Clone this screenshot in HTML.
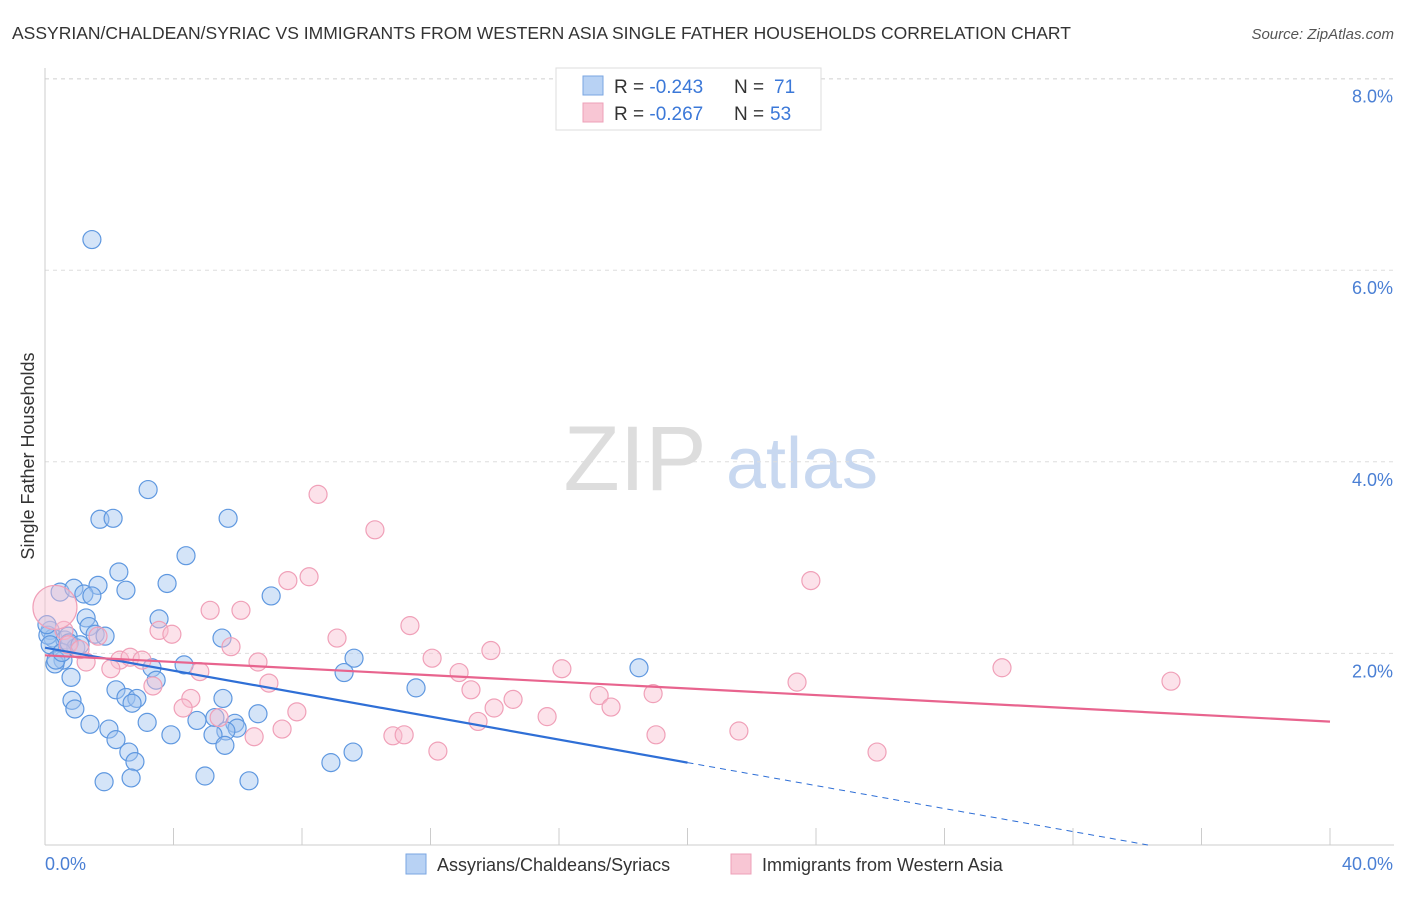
<!DOCTYPE html>
<html><head><meta charset="utf-8"><style>
body{margin:0;background:#fff;font-family:"Liberation Sans",sans-serif;}
svg text{font-family:"Liberation Sans",sans-serif;}
</style></head><body>
<svg id="chart" width="1406" height="892" xmlns="http://www.w3.org/2000/svg">
<text x="12" y="39" font-size="17.5" fill="#333">ASSYRIAN/CHALDEAN/SYRIAC VS IMMIGRANTS FROM WESTERN ASIA SINGLE FATHER HOUSEHOLDS CORRELATION CHART</text>
<text x="1394" y="39" font-size="15" fill="#555" text-anchor="end" font-style="italic">Source: ZipAtlas.com</text>
<g><text x="635" y="490" font-size="92" fill="#ddd" text-anchor="middle" font-family="Liberation Serif">ZIP</text><text x="802" y="488" font-size="72" fill="#c8d8f0" text-anchor="middle">atlas</text></g>
<g id="grid"></g>
<line x1="45" y1="68" x2="45" y2="845" stroke="#ccc"/>
<line x1="45" y1="845" x2="1394" y2="845" stroke="#ccc"/>
<g id="xticks"></g>
<text transform="translate(34,456) rotate(-90)" font-size="18" fill="#333" text-anchor="middle">Single Father Households</text>
<text x="45" y="870" font-size="18" fill="#4a7fd4">0.0%</text>
<text x="1393" y="870" font-size="18" fill="#4a7fd4" text-anchor="end">40.0%</text>
<g id="points"></g>
<g id="trends"></g>
<g>
<rect x="556" y="68" width="265" height="62" fill="#fff" stroke="#ddd"/>
<rect x="583" y="76" width="20" height="19" fill="#b8d2f4" stroke="#7aa6e2"/>
<rect x="583" y="103" width="20" height="19" fill="#f8c6d4" stroke="#eea0b8"/>
<text x="614" y="93" font-size="19" fill="#333">R = <tspan fill="#3b78d8">-0.243</tspan><tspan x="734">N = </tspan><tspan x="774" fill="#3b78d8">71</tspan></text>
<text x="614" y="120" font-size="19" fill="#333">R = <tspan fill="#3b78d8">-0.267</tspan><tspan x="734">N = </tspan><tspan x="770" fill="#3b78d8">53</tspan></text>
</g>
<g>
<rect x="406" y="854" width="20" height="20" fill="#b8d2f4" stroke="#7aa6e2"/>
<text x="437" y="871" font-size="18" fill="#333">Assyrians/Chaldeans/Syriacs</text>
<rect x="731" y="854" width="20" height="20" fill="#f8c6d4" stroke="#eea0b8"/>
<text x="762" y="871" font-size="18" fill="#333">Immigrants from Western Asia</text>
</g>
</svg>
<script>
const yTicks=[2,4,6,8];
const yTickLabels=["2.0%","4.0%","6.0%","8.0%"];
const xTicks=[0,4,8,12,16,20,24,28,32,36,40];
const blueX=[1.46,3.21,1.71,2.12,5.70,4.39,2.30,3.80,1.65,2.52,0.47,0.90,1.21,1.46,7.04,3.55,1.28,1.37,1.56,1.87,5.51,0.16,0.25,0.62,0.72,0.96,0.56,0.31,4.33,9.62,18.49,3.33,9.31,11.55,0.81,3.46,2.21,2.52,2.86,2.71,0.84,0.93,5.54,6.63,3.18,4.73,5.29,5.91,1.40,1.99,5.98,3.92,5.63,5.23,5.60,2.21,2.61,9.59,2.80,8.90,4.98,2.68,1.84,6.35,0.09,0.16,0.34,0.06,0.53,0.75,1.09];
const blueY=[6.32,3.71,3.40,3.41,3.41,3.02,2.85,2.73,2.71,2.66,2.64,2.68,2.62,2.60,2.60,2.36,2.37,2.28,2.20,2.18,2.16,2.24,2.16,2.14,2.18,2.06,1.93,1.89,1.88,1.95,1.85,1.85,1.80,1.64,1.75,1.72,1.62,1.54,1.53,1.48,1.51,1.42,1.53,1.37,1.28,1.30,1.33,1.27,1.26,1.21,1.22,1.15,1.19,1.15,1.04,1.10,0.97,0.97,0.87,0.86,0.72,0.70,0.66,0.67,2.19,2.09,1.93,2.30,2.01,2.11,2.09];
const pinkX=[8.50,10.27,23.84,7.56,8.22,5.14,6.10,3.55,3.95,9.09,11.36,5.79,13.88,12.05,29.79,35.05,16.09,12.89,6.63,1.28,2.33,2.65,3.02,3.36,4.82,6.97,13.26,14.57,17.25,18.93,23.41,2.05,4.54,4.30,7.84,13.98,15.63,17.62,5.42,13.48,7.38,6.51,10.83,11.18,19.02,21.60,12.23,25.90,0.59,0.72,1.65,1.09,0.31];
const pinkY=[3.66,3.29,2.76,2.76,2.80,2.45,2.45,2.24,2.20,2.16,2.29,2.07,2.03,1.95,1.85,1.71,1.84,1.80,1.91,1.91,1.93,1.96,1.93,1.66,1.81,1.69,1.62,1.52,1.56,1.58,1.70,1.84,1.53,1.43,1.39,1.43,1.34,1.44,1.33,1.29,1.21,1.13,1.14,1.15,1.15,1.19,0.98,0.97,2.24,2.09,2.18,2.04,2.48];
const blueTrend=[2.06,-0.06];
const pinkTrend=[1.98,-0.0173];
const NS="http://www.w3.org/2000/svg";
const sx=v=>45+v*32.125, sy=v=>845-v*95.8;
function mk(tag,attrs,parent){const e=document.createElementNS(NS,tag);for(const k in attrs)e.setAttribute(k,attrs[k]);document.getElementById(parent).appendChild(e);return e;}
yTicks.forEach((t,i)=>{
 const l=mk('line',{x1:45,x2:1394,y1:sy(t),y2:sy(t),stroke:'#ddd','stroke-dasharray':'4,4'},'grid');
 
 
 const tx=mk('text',{x:1393,y:sy(t)+24,'font-size':18,fill:'#4a7fd4','text-anchor':'end'},'grid');
 tx.textContent=yTickLabels[i];
 
 
});
mk('line',{x1:45,x2:1394,y1:79,y2:79,stroke:'#ddd','stroke-dasharray':'4,4'},'grid');
xTicks.forEach(t=>{
 const l=mk('line',{x1:sx(t),x2:sx(t),y1:828,y2:845,stroke:'#ccc'},'xticks');
 
 
});
blueX.forEach((x,i)=>{
 const c=mk('circle',{cx:sx(x),cy:sy(blueY[i]),r:9,fill:'rgba(160,196,240,0.45)',stroke:'#5f98e0','stroke-width':1.2},'points');
 
 
});
pinkX.forEach((x,i)=>{
 const c=mk('circle',{cx:sx(x),cy:sy(pinkY[i]),r:i==pinkX.length-1?22:9,fill:'rgba(248,190,208,0.45)',stroke:'#f0a0b8','stroke-width':1.2},'points');
 
 
});
const by=x=>blueTrend[0]+blueTrend[1]*x, py=x=>pinkTrend[0]+pinkTrend[1]*x;
let l=mk('line',{x1:sx(0),y1:sy(by(0)),x2:sx(20),y2:sy(by(20)),stroke:'#2f6fd6','stroke-width':2.2},'trends');


const xEnd=-blueTrend[0]/blueTrend[1];
l=mk('line',{x1:sx(20),y1:sy(by(20)),x2:sx(xEnd),y2:sy(0),stroke:'#2f6fd6','stroke-width':1,'stroke-dasharray':'6,5'},'trends');


l=mk('line',{x1:sx(0),y1:sy(py(0)),x2:sx(40),y2:sy(py(40)),stroke:'#e8648e','stroke-width':2.2},'trends');


</script>
</body></html>
